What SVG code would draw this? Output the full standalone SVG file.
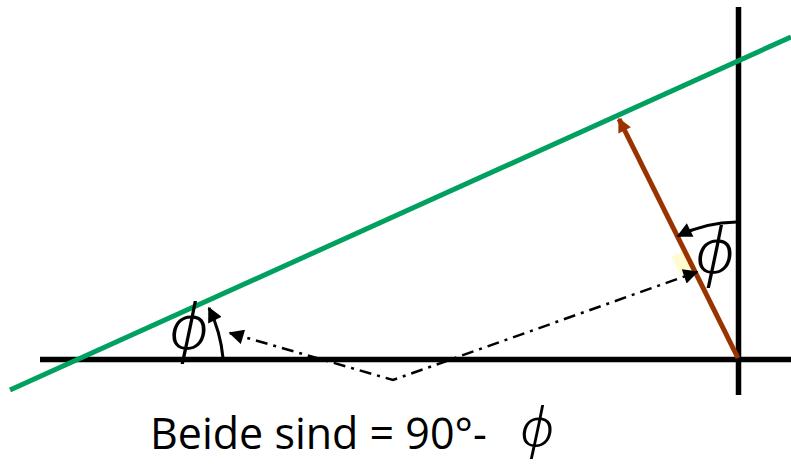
<svg xmlns="http://www.w3.org/2000/svg" width="791" height="464" viewBox="0 0 791 464">
<style>
.axis{stroke:#000;stroke-width:5.5;fill:none}
.green{stroke:#00A060;stroke-width:5;fill:none}
.brown{stroke:#993300;stroke-width:5;fill:none}
.dd{stroke:#000;stroke-width:2.5;fill:none;stroke-dasharray:12 6 3 6}
.arc{stroke:#000;stroke-width:3;fill:none}
.phi{font-family:"Noto Sans",sans-serif;font-style:italic;font-weight:300;font-size:62px;fill:#000;text-anchor:middle}
.label{font-family:"Open Sans","Noto Sans",sans-serif;font-size:43px;fill:#000}
</style>
<defs>
<marker id="ah" viewBox="0 0 10 10" refX="9" refY="5" markerWidth="5.5" markerHeight="5" orient="auto" markerUnits="strokeWidth">
<path d="M0,0 L10,5 L0,10 z" fill="#000"/>
</marker>
<marker id="ahs" viewBox="0 0 10 10" refX="9" refY="5" markerWidth="7" markerHeight="6" orient="auto" markerUnits="strokeWidth">
<path d="M0,0 L10,5 L0,10 z" fill="#000"/>
</marker>
<marker id="ahb" viewBox="0 0 10 10" refX="9" refY="5" markerWidth="3.4" markerHeight="2.8" orient="auto" markerUnits="strokeWidth">
<path d="M0,0 L10,5 L0,10 z" fill="#993300"/>
</marker>
</defs>
<g id="highlight">
<polygon points="671,257 686,250 696,266 681,275" fill="#FFFCCF"/>
</g>
<g id="axes">
<line class="axis" x1="40" y1="359.5" x2="791" y2="359.5"/>
<line class="axis" x1="738.5" y1="7" x2="738.5" y2="395"/>
</g>
<g id="incline">
<line class="green" x1="10" y1="390" x2="791" y2="37"/>
</g>
<g id="connectors">
<line class="brown" x1="738" y1="358" x2="619" y2="119" marker-end="url(#ahb)"/>
<polyline class="dd" points="230,333 393,380 697,272" />
<line class="dd" x1="240" y1="336" x2="230" y2="333" marker-end="url(#ahs)" stroke-dasharray="none"/>
<line class="dd" x1="688" y1="275" x2="697" y2="272" marker-end="url(#ahs)" stroke-dasharray="none"/>
<path class="arc" d="M223,358 A145,145 0 0 0 209,308" marker-end="url(#ah)"/>
<path class="arc" d="M737,222 A137,137 0 0 0 678,236" marker-end="url(#ah)"/>
</g>
<g id="labels">
<text class="phi" x="189" y="349">ϕ</text>
<text class="phi" x="715" y="273">ϕ</text>
<text class="label" x="150" y="449">Beide sind = 90°- </text>
<text class="phi" x="537" y="446" style="font-size:54px">ϕ</text>
</g>
</svg>
